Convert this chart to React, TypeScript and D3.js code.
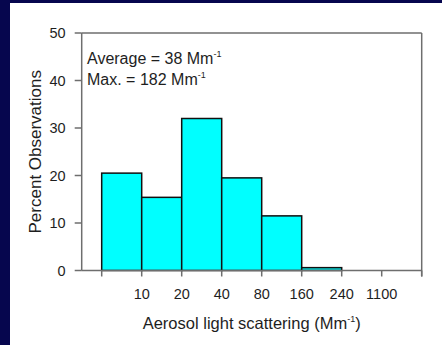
import React from "react";
import * as d3 from "d3";

const binLabels = ["", "10", "20", "40", "80", "160", "240", "1100", ""];
const binValues = [20.5, 15.4, 32, 19.5, 11.5, 0.6, 0];
const yTicks = [0, 10, 20, 30, 40, 50];

const W = 442, H = 345;
const L = 81.7, R = 421.7, T = 33, B = 270.5;

export default function App() {
  const x = d3.scaleLinear().domain([-0.5, 8]).range([L, R]);
  const y = d3.scaleLinear().domain([0, 50]).range([B, T]);
  const axisColor = "#6e6e6e";
  const font = "Liberation Sans, Arial, sans-serif";
  const txt = "#1e1e1e";
  return (
    <svg width={W} height={H} style={{ position: "absolute", left: 0, top: 0 }}>
      <rect x={0} y={0} width={W} height={H} fill="#06064e" />
      <rect x={10} y={3} width={W - 10} height={H - 3} fill="#ffffff" />
      {/* frame */}
      <line x1={L} y1={T} x2={R} y2={T} stroke={axisColor} strokeWidth={1.5} />
      <line x1={R} y1={T} x2={R} y2={B + 6} stroke={axisColor} strokeWidth={1.5} />
      {/* bars */}
      {binValues.map((v, i) =>
        v > 0 ? (
          <rect key={i} x={x(i)} y={y(v)} width={x(i + 1) - x(i)} height={B - y(v)}
            fill="#00ffff" stroke="#111" strokeWidth={1.5} />
        ) : null
      )}
      <line x1={L} y1={T} x2={L} y2={B} stroke={axisColor} strokeWidth={1.5} />
      <line x1={L} y1={B} x2={R} y2={B} stroke={axisColor} strokeWidth={1.5} />
      {/* y ticks */}
      {yTicks.map((t) => (
        <g key={t}>
          <line x1={L - 7} x2={L} y1={y(t)} y2={y(t)} stroke={axisColor} strokeWidth={1.5} />
          <text x={L - 16} y={y(t)} dy="0.36em" textAnchor="end" fontFamily={font} fontSize={14.5} fill={txt}>{t}</text>
        </g>
      ))}
      {/* x ticks */}
      {binLabels.map((lab, i) => (
        <g key={i}>
          <line x1={x(i)} x2={x(i)} y1={B} y2={B + 6} stroke={axisColor} strokeWidth={1.5} />
          <text x={x(i)} y={B + 28} textAnchor="middle" fontFamily={font} fontSize={14.5} fill={txt}>{lab}</text>
        </g>
      ))}
      <text transform={`translate(41,${(T + B) / 2}) rotate(-90)`} textAnchor="middle" fontFamily={font} fontSize={17} fill={txt}>Percent Observations</text>
      <text x={(L + R) / 2} y={329} textAnchor="middle" fontFamily={font} fontSize={16.5} fill={txt}>
        Aerosol light scattering (Mm<tspan dy={-7} fontSize={9}>-1</tspan><tspan dy={7}>)</tspan>
      </text>
      <text x={87} y={64} fontFamily={font} fontSize={16} fill={txt}>
        Average = 38 Mm<tspan dy={-7} fontSize={9}>-1</tspan>
      </text>
      <text x={87} y={85} fontFamily={font} fontSize={16} fill={txt}>
        Max. = 182 Mm<tspan dy={-7} fontSize={9}>-1</tspan>
      </text>
    </svg>
  );
}
